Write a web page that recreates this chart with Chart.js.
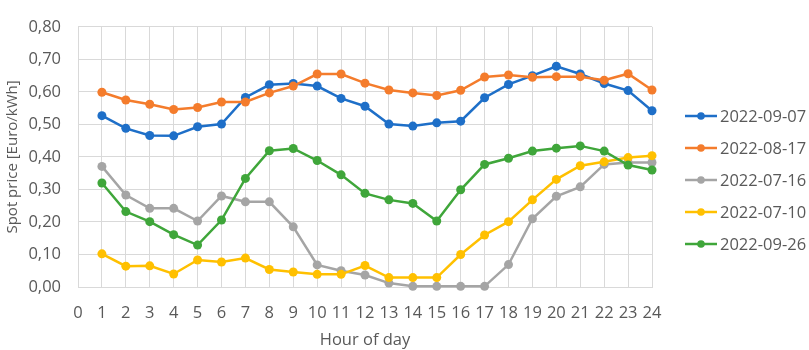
<!DOCTYPE html>
<html>
<head>
<meta charset="utf-8">
<script src="https://cdn.jsdelivr.net/npm/chart.js@4"></script>
<style>
  html, body { margin: 0; padding: 0; background: #fff; }
</style>
</head>
<body>
<canvas id="chart" width="809" height="350"></canvas>
<script>
// hourly spot prices, hours 1..24
const hours = [1, 2, 3, 4, 5, 6, 7, 8, 9, 10, 11, 12, 13, 14, 15, 16, 17, 18, 19, 20, 21, 22, 23, 24];

const seriesNames = ['2022-09-07', '2022-08-17', '2022-07-16', '2022-07-10', '2022-09-26'];

const price0907 = [0.527, 0.488, 0.466, 0.465, 0.493, 0.501, 0.583, 0.622, 0.626, 0.618, 0.580, 0.556,
                   0.501, 0.495, 0.505, 0.510, 0.582, 0.623, 0.650, 0.679, 0.655, 0.626, 0.604, 0.542];
const price0817 = [0.599, 0.575, 0.562, 0.546, 0.552, 0.569, 0.569, 0.597, 0.618, 0.655, 0.655, 0.627,
                   0.606, 0.597, 0.589, 0.605, 0.646, 0.652, 0.645, 0.647, 0.647, 0.636, 0.656, 0.606];
const price0716 = [0.371, 0.283, 0.242, 0.242, 0.203, 0.280, 0.262, 0.262, 0.185, 0.068, 0.050, 0.037,
                   0.012, 0.002, 0.002, 0.002, 0.002, 0.069, 0.210, 0.279, 0.308, 0.377, 0.383, 0.383];
const price0710 = [0.102, 0.064, 0.065, 0.040, 0.083, 0.077, 0.089, 0.054, 0.046, 0.039, 0.039, 0.066,
                   0.029, 0.029, 0.029, 0.100, 0.160, 0.201, 0.268, 0.331, 0.373, 0.385, 0.398, 0.404];
const price0926 = [0.320, 0.232, 0.201, 0.161, 0.129, 0.206, 0.334, 0.419, 0.426, 0.389, 0.345, 0.288,
                   0.268, 0.257, 0.203, 0.299, 0.377, 0.396, 0.418, 0.427, 0.434, 0.418, 0.375, 0.360];

const seriesValues = [price0907, price0817, price0716, price0710, price0926];
const seriesColors = ['#1E6FC8', '#F47C2C', '#A5A5A5', '#FFC000', '#3FA63A'];

const FONT = "'Open Sans', sans-serif";
const TEXT = '#595959';
const GRID = '#d9d9d9';

// legend: line + marker + label, drawn on the right side
const sideLegend = {
  id: 'sideLegend',
  afterDraw(chart) {
    const ctx = chart.ctx;
    ctx.save();
    chart.data.datasets.forEach((ds, i) => {
      const y = 116 + i * 32;
      ctx.strokeStyle = ds.borderColor;
      ctx.lineWidth = 2.5;
      ctx.beginPath();
      ctx.moveTo(685, y);
      ctx.lineTo(717, y);
      ctx.stroke();
      ctx.fillStyle = ds.borderColor;
      ctx.beginPath();
      ctx.arc(701, y, 3.8, 0, Math.PI * 2);
      ctx.fill();
      ctx.fillStyle = TEXT;
      ctx.font = '16.5px ' + FONT;
      ctx.textBaseline = 'middle';
      ctx.fillText(ds.label, 720, y + 1);
    });
    ctx.restore();
  },
};

new Chart(document.getElementById('chart'), {
  type: 'line',
  data: {
    datasets: seriesNames.map((name, i) => ({
      label: name,
      data: hours.map((h, j) => ({ x: h, y: seriesValues[i][j] })),
      borderColor: seriesColors[i],
      backgroundColor: seriesColors[i],
      pointBackgroundColor: seriesColors[i],
      pointBorderColor: seriesColors[i],
      borderWidth: 2.5,
      pointRadius: 4.5,
      pointBorderWidth: 0,
      tension: 0,
      clip: false,
      order: seriesNames.length - i,
    })),
  },
  options: {
    responsive: false,
    animation: false,
    events: [],
    layout: { padding: { top: 10, right: 157, left: 0, bottom: 0 }, autoPadding: false },
    plugins: { legend: { display: false }, tooltip: { enabled: false } },
    scales: {
      x: {
        type: 'linear',
        min: 0,
        max: 24,
        afterFit: s => { s.height = 63; },
        grid: { color: GRID, drawTicks: false },
        border: { color: GRID },
        ticks: { stepSize: 1, padding: 16, color: TEXT, font: { family: FONT, size: 16.5 }, maxRotation: 0, autoSkip: false },
        title: { display: true, text: 'Hour of day', color: TEXT, font: { family: FONT, size: 16.5 }, padding: { top: 0, bottom: 0 } },
      },
      y: {
        min: 0,
        max: 0.8,
        afterFit: s => { s.width = 78; },
        grid: { color: GRID, drawTicks: false },
        border: { color: GRID },
        ticks: {
          stepSize: 0.1,
          padding: 17,
          color: TEXT,
          font: { family: FONT, size: 16.5 },
          callback: v => v.toFixed(2).replace('.', ','),
        },
        title: { display: true, text: 'Spot price [Euro/kWh]', color: TEXT, font: { family: FONT, size: 15 }, padding: { top: 4, bottom: 0 } },
      },
    },
  },
  plugins: [sideLegend],
});
</script>
</body>
</html>
